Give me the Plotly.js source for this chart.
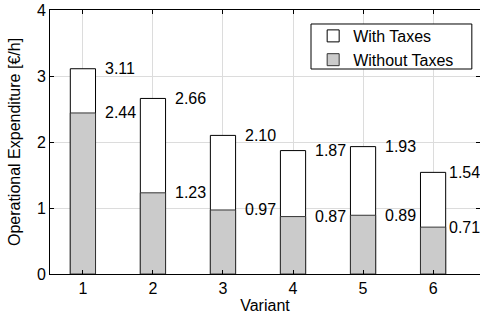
<!DOCTYPE html>
<html>
<head>
<meta charset="utf-8">
<script src="https://cdn.plot.ly/plotly-3.0.1.min.js"></script>
<style>html,body{margin:0;padding:0;background:#fff;}</style>
</head>
<body>
<div id="chart" style="width:480px;height:320px;"></div>
<script>
const variants = [1, 2, 3, 4, 5, 6];
const withTaxes = [3.11, 2.66, 2.10, 1.87, 1.93, 1.54];
const withoutTaxes = [2.44, 1.23, 0.97, 0.87, 0.89, 0.71];
const withLabels = ["3.11", "2.66", "2.10", "1.87", "1.93", "1.54"];
const withoutLabels = ["2.44", "1.23", "0.97", "0.87", "0.89", "0.71"];
const yTicks = [0, 1, 2, 3, 4];

const barW = 0.36;
const font = "Arial";

const traces = [
  {
    type: "bar", x: variants, y: withTaxes, name: "With Taxes", width: barW,
    marker: {color: "#ffffff", line: {color: "#000000", width: 1}},
    hoverinfo: "skip"
  },
  {
    type: "bar", x: variants, y: withoutTaxes, name: "Without Taxes", width: barW,
    marker: {color: "#cbcbcb", line: {color: "#333333", width: 1}},
    hoverinfo: "skip"
  }
];

const annotations = [];
variants.forEach((v, i) => {
  const shift = i === variants.length - 1 ? 1 : 7;
  annotations.push({x: v + barW / 2, y: withTaxes[i], text: withLabels[i], showarrow: false,
    xanchor: "left", yanchor: "middle", xshift: shift, font: {family: font, size: 16, color: "#000"}});
  annotations.push({x: v + barW / 2, y: withoutTaxes[i], text: withoutLabels[i], showarrow: false,
    xanchor: "left", yanchor: "middle", xshift: shift, font: {family: font, size: 16, color: "#000"}});
});

const layout = {
  width: 480, height: 320,
  margin: {l: 50, r: 0, t: 10, b: 46},
  paper_bgcolor: "#ffffff", plot_bgcolor: "#ffffff",
  barmode: "overlay",
  font: {family: font, size: 16, color: "#000"},
  showlegend: true,
  legend: {
    x: 0.612, y: 0.966, xanchor: "left", yanchor: "top",
    bgcolor: "rgba(0,0,0,0)", borderwidth: 0,
    font: {family: font, size: 16, color: "#000"},
    traceorder: "normal", itemwidth: 30, tracegroupgap: 0
  },
  shapes: [{
    type: "rect", xref: "paper", yref: "paper",
    x0: 0.607, x1: 0.981, y0: 0.7765, y1: 0.947,
    fillcolor: "#ffffff", line: {color: "#000000", width: 1}, layer: "above"
  }],
  xaxis: {
    range: [0.53, 6.67], tickvals: variants, ticktext: variants.map(String),
    showgrid: true, gridcolor: "#dcdcdc", gridwidth: 1,
    showline: true, linecolor: "#000", linewidth: 1, mirror: "ticks",
    ticks: "inside", ticklen: 4, tickcolor: "#000",
    zeroline: false, tickfont: {family: font, size: 16},
    title: {text: "Variant", font: {family: font, size: 16}, standoff: 2}
  },
  yaxis: {
    range: [0, 4], tickvals: yTicks,
    showgrid: true, gridcolor: "#dcdcdc", gridwidth: 1,
    showline: true, linecolor: "#000", linewidth: 1, mirror: "ticks",
    ticks: "inside", ticklen: 4, tickcolor: "#000",
    zeroline: false, tickfont: {family: font, size: 16},
    title: {text: "Operational Expenditure [€/h]", font: {family: font, size: 16}, standoff: 12}
  },
  annotations: annotations
};

Plotly.newPlot("chart", traces, layout, {staticPlot: true, displayModeBar: false});
</script>
</body>
</html>
